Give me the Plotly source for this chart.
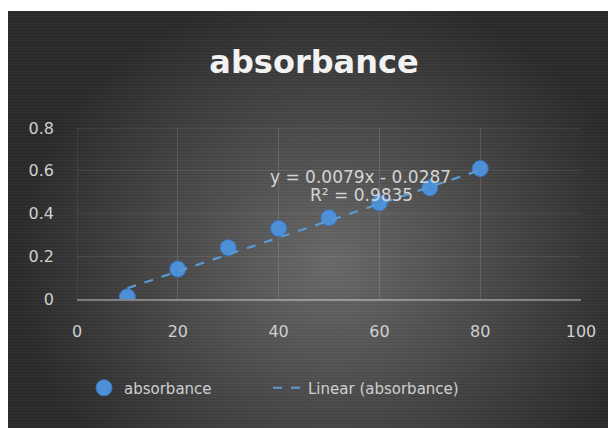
import base64, struct, zlib
import numpy as np
import plotly.graph_objects as go

# ---- data ----
concentration = [10, 20, 30, 40, 50, 60, 70, 80]
absorbance = [0.01, 0.14, 0.24, 0.33, 0.38, 0.45, 0.52, 0.61]
trend_slope = 0.0079
trend_intercept = -0.0287
r_squared = 0.9835
x_ticks = [0, 20, 40, 60, 80, 100]
y_ticks = [0, 0.2, 0.4, 0.6, 0.8]
y_tick_labels = ["0", "0.2", "0.4", "0.6", "0.8"]

# the page body has an 8px margin, so the figure is drawn 8px right/down
OFF = 8
W, H = 616 - OFF, 428 - OFF
PL, PB = 77, 299          # plot-area left / bottom in screen pixels
PR, PT = 581, 128         # plot-area right / top in screen pixels
L, T = PL - OFF, PT - OFF
R, B = W - (PR - OFF), H - (PB - OFF)
pw, ph = PR - PL, PB - PT
FONT = "DejaVu Sans"

def px(xs):
    return (xs - PL) / pw

def py(ys):
    return (PB - ys) / ph

# ---- background image (radial gray gradient) ----
yy, xx = np.mgrid[0:H, 0:W].astype(float)
sx, sy = xx + OFF, yy + OFF
r = np.sqrt(((sx - 330) / 330.0) ** 2 + ((sy - 265) / 290.0) ** 2)
v = 106 - 64 * r
v = np.clip(v, 44, 110)
stripe = np.where((sy.astype(int) % 3) == 0, -5, 2)
v = v + stripe
v[:11 - OFF, :] = 255
img = np.clip(v, 0, 255).astype(np.uint8)

def make_png(a):
    h, w = a.shape
    raw = b"".join(b"\x00" + a[i].tobytes() for i in range(h))
    def chunk(t, d):
        c = struct.pack(">I", len(d)) + t + d
        return c + struct.pack(">I", zlib.crc32(t + d) & 0xffffffff)
    return (b"\x89PNG\r\n\x1a\n" + chunk(b"IHDR", struct.pack(">IIBBBBB", w, h, 8, 0, 0, 0, 0))
            + chunk(b"IDAT", zlib.compress(raw, 9)) + chunk(b"IEND", b""))

uri = "data:image/png;base64," + base64.b64encode(make_png(img)).decode()

tx = [min(concentration), max(concentration)]
ty = [trend_slope * x + trend_intercept for x in tx]

fig = go.Figure()
fig.add_trace(go.Scatter(
    x=concentration, y=absorbance, mode="markers", name="absorbance",
    marker=dict(size=16, color="#4d90d8", line=dict(width=1, color="#3a78c0")),
    legend="legend",
))
fig.add_trace(go.Scatter(
    x=tx, y=ty, mode="lines", name="Linear (absorbance)",
    line=dict(color="#5b9bd5", width=2.2, dash="dash"),
    legend="legend2",
))

fig.add_layout_image(dict(
    source=uri, xref="paper", yref="paper",
    x=-L / pw, y=1 + T / ph, sizex=W / pw, sizey=H / ph,
    xanchor="left", yanchor="top", sizing="stretch", layer="below",
))

ann_font = dict(size=17, color="#d4d4d4", family=FONT)
fig.add_annotation(x=px(360), y=py(165), xref="paper", yref="paper",
                   text="y = 0.0079x - 0.0287", showarrow=False, font=ann_font)
fig.add_annotation(x=px(361), y=py(195), xref="paper", yref="paper",
                   text="R² = " + str(r_squared), showarrow=False, font=ann_font)

leg_font = dict(size=15, color="#cfcfcf", family=FONT)
fig.update_layout(
    width=W, height=H,
    margin=dict(l=L, r=R, t=T, b=B, autoexpand=False),
    paper_bgcolor="#3c3c3c",
    plot_bgcolor="rgba(0,0,0,0)",
    title=dict(text="<b>absorbance</b>", x=(314 - OFF) / W, xanchor="center",
               y=1 - (62 - OFF) / H, yanchor="middle",
               font=dict(size=32, color="#f2f2f2", family=FONT)),
    font=dict(family=FONT, color="#cfcfcf"),
    showlegend=True,
    legend=dict(orientation="h", x=px(84), xanchor="left", y=py(388),
                yanchor="middle", font=leg_font, bgcolor="rgba(0,0,0,0)"),
    legend2=dict(orientation="h", x=px(268), xanchor="left", y=py(388),
                 yanchor="middle", font=leg_font, bgcolor="rgba(0,0,0,0)"),
)
fig.update_xaxes(range=[0, 100], tickvals=x_ticks, showgrid=True, automargin=False,
                 gridcolor="rgba(255,255,255,0.13)", zeroline=False,
                 showline=True, linecolor="rgba(255,255,255,0.35)", linewidth=1.5,
                 tickfont=dict(size=16, color="#cfcfcf", family=FONT), ticks="",
                 ticklabelstandoff=17)
fig.update_yaxes(range=[0, 0.8], tickvals=y_ticks, ticktext=y_tick_labels, showgrid=True,
                 automargin=False,
                 gridcolor="rgba(255,255,255,0.07)", zeroline=False, showline=False,
                 tickfont=dict(size=16, color="#cfcfcf", family=FONT), ticks="",
                 ticklabelstandoff=22)
fig.add_shape(type="line", xref="x", yref="paper", x0=0, x1=0, y0=0, y1=1,
              line=dict(color="rgba(255,255,255,0.13)", width=1), layer="below")
fig.add_shape(type="line", xref="paper", yref="y", x0=0, x1=1, y0=0.8, y1=0.8,
              line=dict(color="rgba(255,255,255,0.13)", width=1), layer="below")

fig.write_html("out.html")
